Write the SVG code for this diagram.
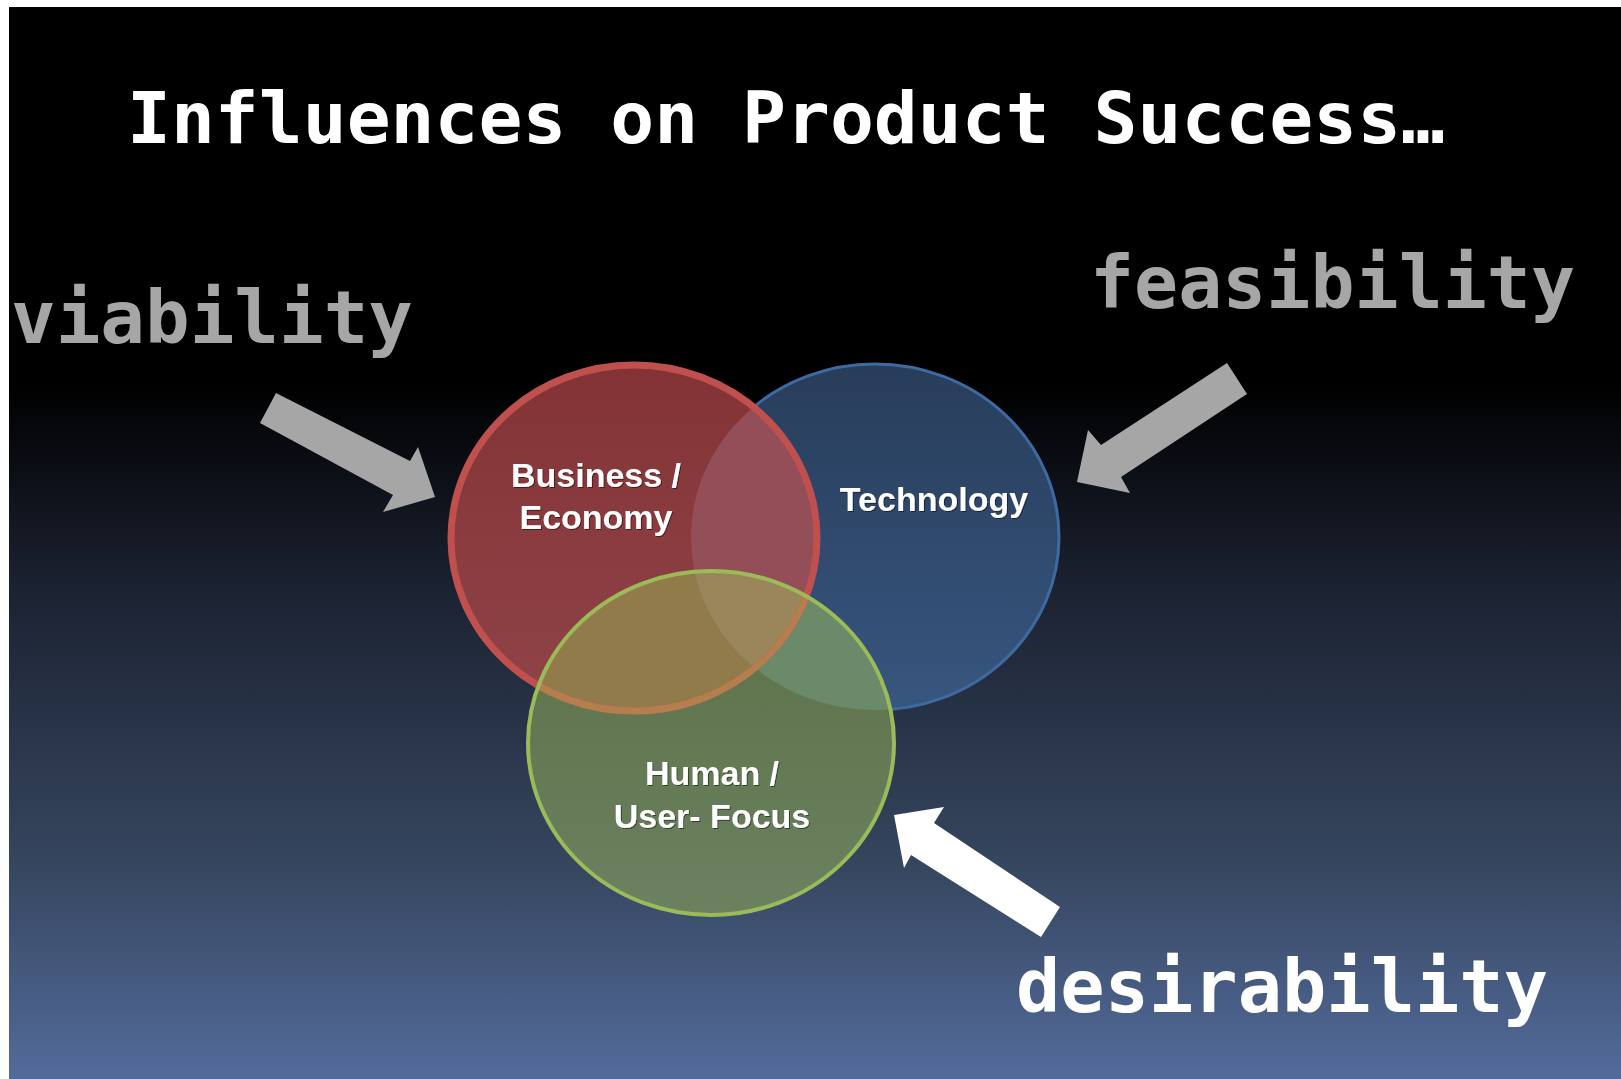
<svg xmlns="http://www.w3.org/2000/svg" width="1621" height="1079" viewBox="0 0 1621 1079">
  <defs>
    <linearGradient id="bg" gradientUnits="userSpaceOnUse" x1="0" y1="7" x2="0" y2="1079">
      <stop offset="0" stop-color="#000000"/>
      <stop offset="0.35" stop-color="#000000"/>
      <stop offset="0.55" stop-color="#1c2333"/>
      <stop offset="0.8" stop-color="#36465f"/>
      <stop offset="1" stop-color="#536b9b"/>
    </linearGradient>
    <linearGradient id="gRed" x1="0" y1="0" x2="0" y2="1">
      <stop offset="0" stop-color="#833335"/>
      <stop offset="1" stop-color="#904448"/>
    </linearGradient>
    <linearGradient id="gBlue" x1="0" y1="0" x2="0" y2="1">
      <stop offset="0" stop-color="#283d5a"/>
      <stop offset="1" stop-color="#37567f"/>
    </linearGradient>
    <linearGradient id="gGreen" x1="0" y1="0" x2="0" y2="1">
      <stop offset="0" stop-color="#5c7147"/>
      <stop offset="1" stop-color="#6b8160"/>
    </linearGradient>
    <clipPath id="clipBlue"><ellipse cx="875" cy="537" rx="184" ry="173"/></clipPath>
    <clipPath id="clipGreen"><ellipse cx="711" cy="743" rx="183" ry="172"/></clipPath>
    <filter id="txtShadow" x="-10%" y="-20%" width="120%" height="140%">
      <feDropShadow dx="1" dy="1" stdDeviation="0.6" flood-color="#000" flood-opacity="0.5"/>
    </filter>
  </defs>
  <style>
    .title { font-family: "DejaVu Sans Mono", "Liberation Mono", monospace; font-weight: bold; font-size: 72px; fill: #ffffff; }
    .side { font-family: "DejaVu Sans Mono", "Liberation Mono", monospace; font-weight: bold; font-size: 73px; }
    .lbl { font-family: "Liberation Sans", Arial, sans-serif; font-weight: bold; font-size: 34px; fill: #ffffff; text-anchor: middle; }
    .arrowGray { fill: #a6a6a6; }
    .arrowWhite { fill: #ffffff; }
  </style>

  <!-- backdrop -->
  <rect x="0" y="0" width="1621" height="1079" fill="#ffffff"/>
  <rect x="9" y="7" width="1612" height="1072" fill="url(#bg)"/>

  <text class="title" x="127" y="143" textLength="1318" lengthAdjust="spacingAndGlyphs">Influences on Product Success…</text>

  <!-- side labels -->
  <text class="side" x="11" y="343" fill="#a6a6a6" textLength="402" lengthAdjust="spacingAndGlyphs">viability</text>
  <text class="side" x="1090" y="308" fill="#a6a6a6" textLength="485" lengthAdjust="spacingAndGlyphs">feasibility</text>
  <text class="side" x="1016" y="1012" fill="#ffffff" textLength="532" lengthAdjust="spacingAndGlyphs">desirability</text>

  <!-- venn: fills and overlaps -->
  <g id="venn-fills">
    <ellipse cx="875" cy="537" rx="184" ry="173" fill="url(#gBlue)" stroke="#3d6aa0" stroke-width="3"/>
    <ellipse cx="634" cy="538" rx="183" ry="173" fill="url(#gRed)"/>
    <ellipse cx="711" cy="743" rx="183" ry="172" fill="url(#gGreen)"/>
    <!-- red ∩ blue -->
    <ellipse cx="634" cy="538" rx="183" ry="173" fill="#944e57" clip-path="url(#clipBlue)"/>
    <!-- red ∩ green -->
    <ellipse cx="634" cy="538" rx="183" ry="173" fill="#917b4b" clip-path="url(#clipGreen)"/>
    <!-- blue ∩ green -->
    <ellipse cx="875" cy="537" rx="184" ry="173" fill="#6a8a6a" clip-path="url(#clipGreen)"/>
    <!-- all three -->
    <g clip-path="url(#clipBlue)">
      <ellipse cx="634" cy="538" rx="183" ry="173" fill="#9a865a" clip-path="url(#clipGreen)"/>
    </g>
  </g>

  <g id="node-technology">
    <text class="lbl" x="934" y="511" filter="url(#txtShadow)">Technology</text>
  </g>

  <g id="node-business">
    <ellipse cx="634" cy="538" rx="183" ry="173" fill="none" stroke="#c0504d" stroke-width="7"/>
    <ellipse cx="634" cy="538" rx="183" ry="173" fill="none" stroke="#b47e4e" stroke-width="7" clip-path="url(#clipGreen)"/>
    <text class="lbl" x="596" y="487" filter="url(#txtShadow)">Business /</text>
    <text class="lbl" x="596" y="529" filter="url(#txtShadow)">Economy</text>
  </g>

  <g id="node-human">
    <ellipse cx="711" cy="743" rx="183" ry="172" fill="none" stroke="#9bbb59" stroke-width="4"/>
    <text class="lbl" x="712" y="785" filter="url(#txtShadow)">Human /</text>
    <text class="lbl" x="712" y="828" filter="url(#txtShadow)">User- Focus</text>
  </g>

  <!-- arrows -->
  <g id="connectors">
    <polygon class="arrowGray" points="276,393 410,461 418,447 435,497 383,512 393,495 260,423"/>
    <polygon class="arrowGray" points="1227,363 1247,394 1121,477 1130,493 1077,482 1088,430 1101,445"/>
    <polygon class="arrowWhite" points="894,815 944,807 934,823 1060,907 1041,937 911,855 904,868"/>
  </g>
</svg>
